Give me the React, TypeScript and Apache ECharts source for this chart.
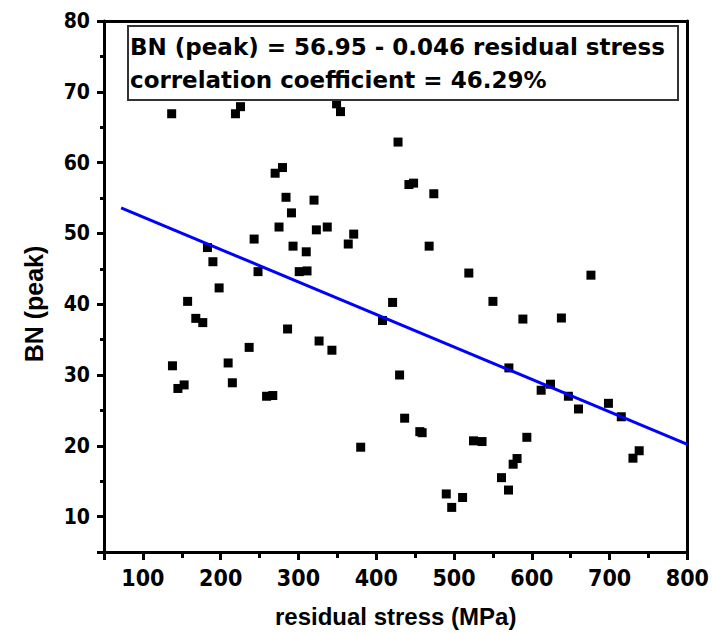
import React, { useEffect, useRef } from "react";
import * as echarts from "echarts";

const residualStress: number[] = [
  137, 219, 225.5, 349, 354, 428, 270, 279.5, 284, 320,
  291, 275, 323, 337, 243, 371, 364, 293, 310, 183,
  190, 198, 248, 301, 311, 157.5, 168, 177, 286, 326.5,
  343, 236.6, 209.6, 138, 215, 145, 153, 259, 267, 408,
  421, 430, 442, 448, 474, 468, 519, 676, 550, 588.5,
  638, 570.5, 624, 612, 647, 660, 698.5, 715, 380, 436.5,
  456, 459, 525, 536, 593.6, 561, 576, 581, 570, 490,
  497, 511, 730, 738,
];
const bnPeak: number[] = [
  66.9, 66.9, 67.9, 68.3, 67.2, 62.9, 58.5, 59.3, 55.1, 54.7,
  52.9, 50.9, 50.5, 50.9, 49.2, 49.9, 48.5, 48.2, 47.4, 48.0,
  46.0, 42.3, 44.6, 44.6, 44.7, 40.4, 38.0, 37.4, 36.5, 34.8,
  33.5, 33.9, 31.7, 31.3, 28.9, 28.1, 28.6, 27.0, 27.1, 37.7,
  40.25, 30.0, 56.9, 57.1, 55.6, 48.2, 44.4, 44.1, 40.4, 37.9,
  38.05, 31.0, 28.7, 27.85, 27.0, 25.2, 26.0, 24.1, 19.8, 23.9,
  22.0, 21.85, 20.7, 20.6, 21.2, 15.5, 17.4, 18.2, 13.75, 13.2,
  11.3, 12.7, 18.25, 19.3,
];
const fitX: number[] = [72, 800];
const fitY: number[] = [53.6, 20.2];

const xTitle = "residual stress (MPa)";
const yTitle = "BN (peak)";
const boxLine1 = "BN (peak) = 56.95 - 0.046 residual stress";
const boxLine2 = "correlation coefficient = 46.29%";

const labelFont = "'DejaVu Sans Condensed', 'Liberation Sans', Arial, sans-serif";

export default function App() {
  const ref = useRef<HTMLDivElement>(null);
  useEffect(() => {
    if (!ref.current) return;
    const chart = echarts.init(ref.current, null, { renderer: "svg" });
    const axisLine = { show: true, lineStyle: { color: "#000", width: 3 } };
    chart.setOption({
      animation: false,
      backgroundColor: "#fff",
      grid: { left: 104, right: 24, top: 21, bottom: 77 },
      xAxis: [
        {
          type: "value",
          min: 50,
          max: 800,
          splitNumber: 7,
          position: "bottom",
          axisLine,
          axisTick: { show: true, length: 8, lineStyle: { color: "#000", width: 3 } },
          minorTick: { show: true, splitNumber: 2, length: 6, lineStyle: { color: "#000", width: 3 } },
          splitLine: { show: false },
          axisLabel: {
            margin: 14,
            color: "#000",
            fontSize: 23,
            fontWeight: "bold",
            fontFamily: labelFont,
            showMinLabel: false,
          },
          name: xTitle,
          nameLocation: "middle",
          nameGap: 52,
          nameTextStyle: {
            color: "#000",
            fontSize: 24,
            fontWeight: "bold",
            fontFamily: "'Liberation Sans', Arial, sans-serif",
          },
        },
        {
          type: "value",
          min: 50,
          max: 800,
          position: "top",
          axisLine,
          axisTick: { show: false },
          axisLabel: { show: false },
          splitLine: { show: false },
        },
      ],
      yAxis: [
        {
          type: "value",
          min: 5,
          max: 80,
          splitNumber: 7,
          position: "left",
          axisLine,
          axisTick: { show: true, length: 7, lineStyle: { color: "#000", width: 3 } },
          minorTick: { show: true, splitNumber: 2, length: 4, lineStyle: { color: "#000", width: 3 } },
          splitLine: { show: false },
          axisLabel: {
            margin: 14,
            color: "#000",
            fontSize: 21,
            fontWeight: "bold",
            fontFamily: labelFont,
            showMinLabel: false,
          },
          name: yTitle,
          nameLocation: "middle",
          nameGap: 58,
          nameTextStyle: {
            color: "#000",
            fontSize: 25,
            fontWeight: "bold",
            fontFamily: "'Liberation Sans', Arial, sans-serif",
            padding: [0, 35, 0, 0],
          },
        },
        {
          type: "value",
          min: 5,
          max: 80,
          position: "right",
          axisLine,
          axisTick: { show: false },
          axisLabel: { show: false },
          splitLine: { show: false },
        },
      ],
      series: [
        {
          type: "scatter",
          xAxisIndex: 0,
          yAxisIndex: 0,
          symbol: "rect",
          symbolSize: 9,
          itemStyle: { color: "#000", opacity: 1 },
          data: residualStress.map((x, i) => [x, bnPeak[i]]),
          z: 3,
        },
        {
          type: "line",
          xAxisIndex: 0,
          yAxisIndex: 0,
          showSymbol: false,
          symbol: "none",
          lineStyle: { color: "#0000ff", width: 3 },
          data: fitX.map((x, i) => [x, fitY[i]]),
          z: 4,
        },
      ],
      graphic: [
        {
          type: "rect",
          shape: { x: 128, y: 26, width: 550, height: 74 },
          style: { fill: "#fff", stroke: "#333", lineWidth: 2 },
          z: 10,
        },
        {
          type: "text",
          x: 130,
          y: 47,
          style: {
            text: boxLine1,
            fill: "#000",
            fontSize: 23,
            fontWeight: "bold",
            fontFamily: "'DejaVu Sans', Verdana, sans-serif",
            verticalAlign: "middle",
          },
          z: 11,
        },
        {
          type: "text",
          x: 130,
          y: 80,
          style: {
            text: boxLine2,
            fill: "#000",
            fontSize: 23,
            fontWeight: "bold",
            fontFamily: "'DejaVu Sans', Verdana, sans-serif",
            verticalAlign: "middle",
          },
          z: 11,
        },
      ],
    });
    return () => chart.dispose();
  }, []);
  return (
    <div
      ref={ref}
      style={{ position: "fixed", left: 0, top: 0, width: 712, height: 633, background: "#fff" }}
    />
  );
}
